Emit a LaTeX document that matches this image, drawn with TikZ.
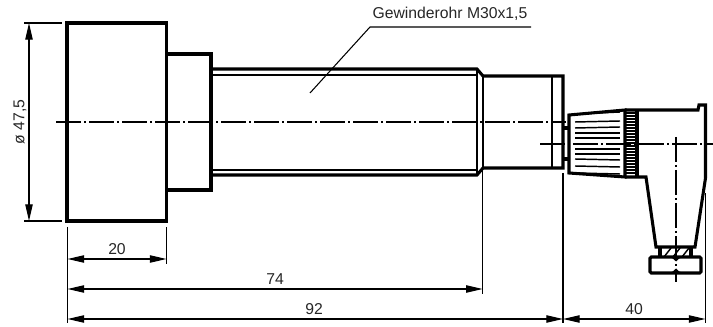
\documentclass[tikz,border=0pt]{standalone}
\usepackage{fontspec}
\setmainfont{Liberation Sans}
\usetikzlibrary{arrows.meta}

\tikzset{
  body/.style={line width=2.3pt,line join=miter},
  fine/.style={line width=0.8pt},
  knurl/.style={line width=1.1pt},
  axis/.style={line width=0.8pt,dash pattern=on 18.75pt off 2.25pt on 1.5pt off 2.25pt},
  dimline/.style={line width=0.9pt,{Stealth[length=12.5pt,width=5.5pt,inset=0pt]}-{Stealth[length=12.5pt,width=5.5pt,inset=0pt]}},
  dimtext/.style={font=\fontsize{11.8}{13}\selectfont,text=black!85,inner sep=0pt}
}

\begin{document}
\begin{tikzpicture}[x=0.75pt,y=-0.75pt]

  \useasboundingbox (0,0) rectangle (713,327);

  % housing and flange
  \draw[body] (67,23) rectangle (166.5,221);
  \draw[body] (166.5,54) -- (211,54) -- (211,190) -- (166.5,190);

  % threaded tube
  \draw[body] (211,69) -- (477,69) -- (483,76) -- (563,76) -- (563,168) -- (483,168) -- (477,175) -- (211,175);
  \draw[fine] (211,75) -- (477,75)
              (211,170) -- (477,170)
              (477,69) -- (477,175)
              (483,76) -- (483,168)
              (552,76) -- (552,168);

  % plug
  \draw[body] (563,128) -- (569,128) (563,159) -- (569,159);
  \draw[body] (569,115) -- (625,110) -- (625,177) -- (569,173) -- cycle;
  \draw[body] (625,110) -- (698,110) -- (699,105) -- (705.5,105) -- (705.5,178) -- (695,247) -- (656,247) -- (646,177) -- (625,177);
  \draw[body] (637,110) -- (637,177);
  \foreach \y in {113,116,...,175}
    \draw[knurl] (625,\y) -- (637,\y);
  \foreach \y/\z in {114/112,122/121,128/127,133/133,138/138,149/149,154/154,159/160,166/167,173/174}
    \draw[knurl] (575,\y) -- (620,\z);

  % foot of the plug
  \draw[body] (660,247) -- (660,257) (691,247) -- (691,257);
  \draw[body,rounded corners=1pt] (650,257) -- (701,257) -- (701,273) -- (650,273) -- cycle;
  \draw[knurl] (664,257) -- (671,248) (673,257) -- (680,248) (682,257) -- (689,248);
  \fill (668,257) .. controls (672,258) and (675,259) .. (676,261.5) .. controls (677,259) and (680,258) .. (684,257) -- cycle;
  \fill (668,273) .. controls (672,272) and (675,271) .. (676,268.5) .. controls (677,271) and (680,272) .. (684,273) -- cycle;

  % centre lines
  \draw[axis] (56,122) -- (566,122);
  \draw[axis] (540,144) -- (713,144);
  \draw[axis] (676,137) -- (676,282);

  % thread label
  \coordinate (threadA) at (310,93);
  \coordinate (threadB) at (370,27);
  \coordinate (threadC) at (531,27);
  \draw[fine] (threadA) -- (threadB) -- (threadC);
  \node[dimtext] at (450,14) (thread) {Gewinderohr M30x1,5};

  % extension lines
  \draw[fine] (24,23) -- (62,23)
              (24,221) -- (62,221)
              (67.5,227) -- (67.5,323)
              (166.5,227) -- (166.5,264)
              (482.7,170) -- (482.7,294)
              (563,173) -- (563,323)
              (705.5,193) -- (705.5,323);

  % dimensions
  \draw[dimline] (29,23) -- (29,221);
  \draw[dimline] (67.5,259) -- (166.5,259);
  \draw[dimline] (67.5,289) -- (482.7,289);
  \draw[dimline] (67.5,319) -- (563,319);
  \draw[dimline] (563,319) -- (705.5,319);

  \node[dimtext,rotate=90] at (20,122) (dia) {ø 47,5};
  \node[dimtext] at (117,249) (lenA) {20};
  \node[dimtext] at (275,279) (lenB) {74};
  \node[dimtext] at (314,309) (lenC) {92};
  \node[dimtext] at (634,309) (lenD) {40};

\end{tikzpicture}
\end{document}
